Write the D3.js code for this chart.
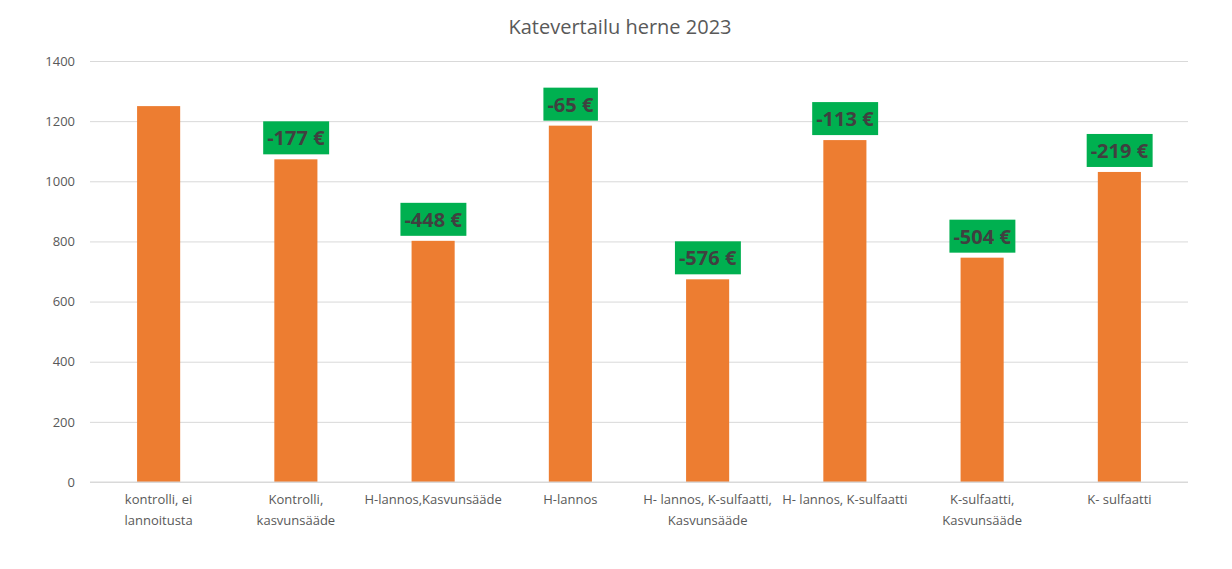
<!DOCTYPE html>
<html>
<head>
<meta charset="utf-8">
<script src="https://cdn.jsdelivr.net/npm/d3@7"></script>
<style>
  body { margin: 0; background: #fff; }
  text { font-family: "Open Sans", "Noto Sans", sans-serif; }
</style>
</head>
<body>
<div id="chart"></div>
<script>
// data
const categories = [
  "kontrolli, ei lannoitusta",
  "Kontrolli, kasvunsääde",
  "H-lannos,Kasvunsääde",
  "H-lannos",
  "H- lannos, K-sulfaatti, Kasvunsääde",
  "H- lannos, K-sulfaatti",
  "K-sulfaatti, Kasvunsääde",
  "K- sulfaatti"
];
// category labels as they wrap in the picture
const labelLines = [
  ["kontrolli, ei", "lannoitusta"],
  ["Kontrolli,", "kasvunsääde"],
  ["H-lannos,Kasvunsääde"],
  ["H-lannos"],
  ["H- lannos, K-sulfaatti,", "Kasvunsääde"],
  ["H- lannos, K-sulfaatti"],
  ["K-sulfaatti,", "Kasvunsääde"],
  ["K- sulfaatti"]
];
const values = [1250, 1073, 802, 1185, 674, 1137, 746, 1031];
const diffLabels = [null, "-177 €", "-448 €", "-65 €", "-576 €", "-113 €", "-504 €", "-219 €"];
const yTicks = [0, 200, 400, 600, 800, 1000, 1200, 1400];

const W = 1232, H = 569;
const margin = { top: 61, right: 44, bottom: 87, left: 90 };
const width = W - margin.left - margin.right;
const height = H - margin.top - margin.bottom;

const svg = d3.select('#chart').append('svg')
  .attr('width', W).attr('height', H);

svg.append('text')
  .attr('x', W / 2 + 4).attr('y', 34)
  .attr('text-anchor', 'middle')
  .attr('font-size', 20)
  .attr('fill', '#595959')
  .text('Katevertailu herne 2023');

const g = svg.append('g')
  .attr('transform', 'translate(' + margin.left + ',' + margin.top + ')');

const x = d3.scaleBand()
  .domain(categories)
  .range([0, width])
  .paddingInner(0.686)
  .paddingOuter(0.343);

const y = d3.scaleLinear()
  .domain([0, 1400])
  .range([height, 0]);

// gridlines
g.append('g')
  .call(d3.axisLeft(y).tickValues(yTicks).tickSize(-width).tickFormat(''))
  .call(a => a.select('.domain').remove())
  .selectAll('line').attr('stroke', '#d9d9d9');

// y tick labels
g.append('g')
  .call(d3.axisLeft(y).tickValues(yTicks).tickSize(0).tickPadding(15).tickFormat(d3.format('d')))
  .call(a => a.select('.domain').remove())
  .selectAll('text')
  .attr('font-size', 13)
  .attr('fill', '#595959')
  .style('font-family', '"Open Sans", sans-serif');

// bars
g.selectAll('.bar')
  .data(values)
  .enter().append('rect')
  .attr('class', 'bar')
  .attr('x', (d, i) => x(categories[i]))
  .attr('width', x.bandwidth())
  .attr('y', d => y(d))
  .attr('height', d => height - y(d))
  .attr('fill', '#ed7d31');

// baseline
g.append('line')
  .attr('x1', 0).attr('x2', width)
  .attr('y1', height).attr('y2', height)
  .attr('stroke', '#d9d9d9');

// category labels
const cl = g.selectAll('.cat')
  .data(labelLines)
  .enter().append('text')
  .attr('class', 'cat')
  .attr('text-anchor', 'middle')
  .attr('font-size', 13)
  .attr('fill', '#595959')
  .attr('transform', (d, i) => 'translate(' + (x(categories[i]) + x.bandwidth() / 2) + ',' + (height + 22) + ')');
cl.selectAll('tspan')
  .data(d => d)
  .enter().append('tspan')
  .attr('x', 0)
  .attr('dy', (d, j) => j === 0 ? 0 : 20.5)
  .text(d => d);

// difference labels in green boxes
const lab = g.selectAll('.diff')
  .data(values.map((v, i) => ({ v: v, i: i, t: diffLabels[i] })).filter(d => d.t))
  .enter().append('g')
  .attr('class', 'diff')
  .attr('transform', d => 'translate(' + (x(categories[d.i]) + x.bandwidth() / 2) + ',' + (y(d.v) - 5) + ')');

lab.append('text')
  .attr('text-anchor', 'middle')
  .attr('y', -9)
  .attr('font-size', 20)
  .attr('font-weight', 'bold')
  .attr('fill', '#404040')
  .text(d => d.t)
  .each(function () {
    const bb = this.getBBox();
    d3.select(this.parentNode).insert('rect', 'text')
      .attr('x', bb.x - 4).attr('width', bb.width + 8)
      .attr('y', -33).attr('height', 33)
      .attr('fill', '#00b050');
  });
</script>
</body>
</html>
